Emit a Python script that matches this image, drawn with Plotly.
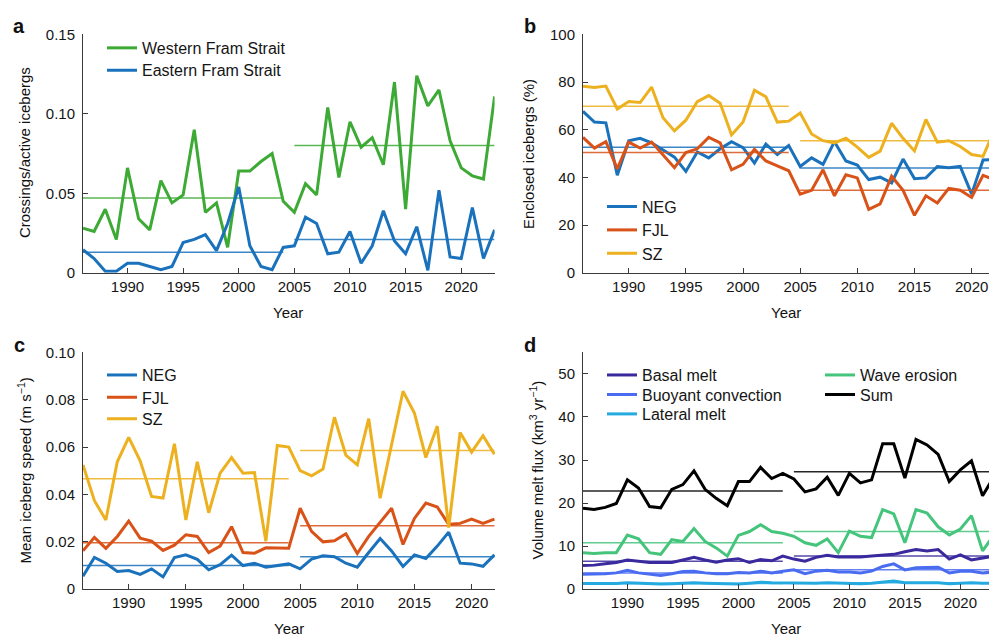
import plotly.graph_objects as go

# ---------------- data ----------------
years_ad = list(range(1986, 2024))
years_bc = list(range(1986, 2023))

west_fram = [0.028, 0.026, 0.040, 0.021, 0.066, 0.034, 0.027, 0.058, 0.044, 0.049,
             0.090, 0.038, 0.044, 0.016, 0.064, 0.064, 0.070, 0.075, 0.045, 0.038,
             0.056, 0.049, 0.104, 0.060, 0.095, 0.079, 0.085, 0.068, 0.120, 0.040,
             0.124, 0.105, 0.115, 0.083, 0.066, 0.061, 0.059, 0.111]
east_fram = [0.0145, 0.009, 0.001, 0.001, 0.006, 0.006, 0.004, 0.002, 0.004, 0.019,
             0.021, 0.024, 0.014, 0.031, 0.054, 0.017, 0.004, 0.002, 0.016, 0.017,
             0.035, 0.031, 0.012, 0.013, 0.026, 0.006, 0.017, 0.039, 0.020, 0.012,
             0.029, 0.0016, 0.052, 0.010, 0.009, 0.041, 0.009, 0.027]
west_fram_means = [0.047, 0.080]
east_fram_means = [0.0129, 0.021]

neg_enclosed = [67.7, 63.2, 62.9, 40.9, 55.4, 56.4, 54.5, 51.5, 48.5, 42.5,
                50.7, 48.2, 52.0, 55.0, 52.5, 46.0, 54.0, 49.6, 53.4, 44.6,
                48.2, 45.5, 55.0, 46.9, 45.2, 39.1, 40.1, 37.7, 47.7, 39.5,
                39.8, 44.6, 44.1, 44.6, 33.0, 47.3, 47.5]
fjl_enclosed = [56.8, 52.3, 55.0, 43.6, 54.8, 52.3, 54.8, 49.3, 44.1, 50.4,
                52.0, 56.8, 54.5, 43.2, 45.5, 51.8, 46.9, 44.8, 42.8, 33.0,
                34.6, 43.2, 32.3, 41.1, 39.8, 26.6, 28.9, 40.5, 34.6, 24.1,
                32.3, 29.3, 35.4, 34.6, 31.6, 40.9, 39.0]
sz_enclosed = [78.2, 77.7, 78.3, 68.7, 71.8, 71.4, 77.9, 65.0, 59.5, 64.0,
               71.8, 74.3, 71.1, 57.8, 63.2, 76.6, 73.8, 63.2, 63.6, 67.0,
               58.2, 55.4, 54.5, 56.4, 52.7, 48.4, 51.0, 62.7, 56.4, 51.1,
               64.3, 54.8, 55.4, 53.0, 49.6, 48.8, 60.0]
neg_enclosed_means = [52.7, 43.9]
fjl_enclosed_means = [50.4, 34.6]
sz_enclosed_means = [69.8, 55.4]

neg_speed = [0.0055, 0.0134, 0.0110, 0.0075, 0.0079, 0.0063, 0.0086, 0.0052, 0.0134, 0.0145,
             0.0126, 0.0082, 0.0104, 0.0144, 0.0100, 0.0110, 0.0093, 0.0099, 0.0107, 0.0086,
             0.0127, 0.0141, 0.0137, 0.0110, 0.0093, 0.0155, 0.0214, 0.0162, 0.0096, 0.0145,
             0.0130, 0.0182, 0.0241, 0.0110, 0.0107, 0.0097, 0.0145]
fjl_speed = [0.0162, 0.0219, 0.0173, 0.0223, 0.0288, 0.0216, 0.0203, 0.0164, 0.0186, 0.0230,
             0.0223, 0.0155, 0.0182, 0.0264, 0.0155, 0.0152, 0.0175, 0.0175, 0.0173, 0.0342,
             0.0244, 0.0200, 0.0205, 0.0234, 0.0151, 0.0223, 0.0285, 0.0342, 0.0189, 0.0299,
             0.0364, 0.0347, 0.0274, 0.0278, 0.0296, 0.0278, 0.0296]
sz_speed = [0.0525, 0.0374, 0.0292, 0.0538, 0.0641, 0.0542, 0.0392, 0.0385, 0.0614, 0.0292,
            0.0538, 0.0323, 0.0490, 0.0556, 0.0490, 0.0493, 0.0203, 0.0607, 0.0600, 0.0501,
            0.0479, 0.0507, 0.0726, 0.0566, 0.0525, 0.0720, 0.0384, 0.0611, 0.0836, 0.0744,
            0.0556, 0.0689, 0.0260, 0.0662, 0.0579, 0.0648, 0.0570]
neg_speed_means = [0.0100, 0.0137]
fjl_speed_means = [0.0196, 0.0268]
sz_speed_means = [0.0467, 0.0586]

basal_melt = [5.5, 5.6, 5.9, 6.2, 6.8, 6.5, 6.2, 6.2, 6.2, 6.8,
              7.4, 6.8, 6.3, 6.8, 7.1, 6.2, 6.9, 6.6, 7.7, 7.0,
              6.5, 7.4, 7.9, 7.5, 7.5, 7.5, 7.7, 7.9, 8.1, 8.7,
              9.2, 8.9, 9.2, 7.0, 8.0, 6.8, 7.2, 7.7]
buoyant_conv = [3.5, 3.5, 3.6, 3.8, 4.4, 3.8, 3.5, 3.2, 3.6, 4.1,
                4.2, 3.8, 3.6, 3.6, 3.9, 3.8, 4.2, 3.8, 4.2, 4.5,
                3.6, 4.2, 4.4, 4.0, 4.0, 3.8, 4.2, 5.3, 5.9, 4.5,
                5.0, 5.0, 5.1, 3.8, 4.2, 4.2, 3.8, 4.0]
lateral_melt = [1.35, 1.3, 1.3, 1.35, 1.5, 1.4, 1.25, 1.2, 1.3, 1.4,
                1.5, 1.4, 1.3, 1.25, 1.2, 1.4, 1.65, 1.5, 1.45, 1.4,
                1.3, 1.4, 1.5, 1.4, 1.4, 1.3, 1.4, 1.6, 1.9, 1.5,
                1.5, 1.6, 1.5, 1.3, 1.4, 1.5, 1.4, 1.4]
wave_erosion = [8.5, 8.3, 8.5, 8.5, 12.6, 11.7, 8.5, 8.1, 11.5, 11.1,
                14.1, 11.1, 9.6, 7.7, 12.5, 13.4, 15.0, 13.4, 13.0, 12.3,
                10.8, 10.2, 11.7, 8.5, 13.5, 12.3, 12.0, 18.5, 17.5, 10.8,
                18.5, 17.7, 14.5, 12.6, 14.0, 17.1, 8.9, 12.5]
melt_sum = [18.8, 18.5, 19.0, 19.9, 25.4, 23.5, 19.2, 18.9, 23.2, 24.3,
            27.5, 23.2, 21.1, 19.4, 25.0, 25.0, 28.3, 25.7, 26.9, 25.6,
            22.6, 23.3, 26.0, 21.8, 26.9, 24.7, 25.4, 33.8, 33.8, 25.8,
            34.8, 33.5, 31.3, 25.0, 27.7, 29.8, 21.7, 26.0]
basal_means = [6.5, 7.7]
buoyant_means = [3.8, 4.5]
lateral_means = [1.35, 1.5]
wave_means = [10.8, 13.4]
sum_means = [22.8, 27.3]

periods_ad = [(1986, 2004), (2005, 2023)]
periods_bc = [(1986, 2004), (2005, 2022)]

x_ticks = [1990, 1995, 2000, 2005, 2010, 2015, 2020]

# ---------------- style ----------------
W, H = 989, 643
FONT = "Liberation Sans, Arial, Helvetica, sans-serif"
C_GREEN = "#3DAA35"
C_BLUE = "#1A72BD"
C_ORANGE = "#D95319"
C_YELLOW = "#EDB120"
C_BASAL = "#3A2A9E"
C_BUOY = "#4A6CF0"
C_LAT = "#25AAE0"
C_WAVE = "#45C47C"
C_SUM = "#000000"
AX = "#3a3a3a"
TXT = "#151515"


def px_x(p):
    return p / W


def px_y(p):
    return 1 - p / H


fig = go.Figure()
legend_slots = []  # (legend id, left px, center y px)


def add_series(xref, yref, years, values, means, periods, color, name, leg_x, leg_y):
    lid = "legend" if not legend_slots else "legend%d" % (len(legend_slots) + 1)
    legend_slots.append((lid, leg_x, leg_y))
    fig.add_trace(go.Scatter(x=years, y=values, mode="lines", name=name,
                             line=dict(color=color, width=3),
                             xaxis=xref, yaxis=yref, legend=lid, showlegend=True))
    for (y0, y1), m in zip(periods, means):
        fig.add_trace(go.Scatter(x=[y0, y1], y=[m, m], mode="lines",
                                 line=dict(color=color, width=1.5),
                                 opacity=0.85,
                                 xaxis=xref, yaxis=yref, showlegend=False,
                                 hoverinfo="skip"))


# panel a
add_series("x", "y", years_ad, west_fram, west_fram_means, periods_ad, C_GREEN, "Western Fram Strait", 102, 40)
add_series("x", "y", years_ad, east_fram, east_fram_means, periods_ad, C_BLUE, "Eastern Fram Strait", 102, 63)
# panel b
add_series("x2", "y2", years_bc, neg_enclosed, neg_enclosed_means, periods_bc, C_BLUE, "NEG", 602, 203)
add_series("x2", "y2", years_bc, fjl_enclosed, fjl_enclosed_means, periods_bc, C_ORANGE, "FJL", 602, 227)
add_series("x2", "y2", years_bc, sz_enclosed, sz_enclosed_means, periods_bc, C_YELLOW, "SZ", 602, 251)
# panel c
add_series("x3", "y3", years_bc, neg_speed, neg_speed_means, periods_bc, C_BLUE, "NEG", 102, 376)
add_series("x3", "y3", years_bc, fjl_speed, fjl_speed_means, periods_bc, C_ORANGE, "FJL", 102, 399)
add_series("x3", "y3", years_bc, sz_speed, sz_speed_means, periods_bc, C_YELLOW, "SZ", 102, 421)
# panel d
add_series("x4", "y4", years_ad, melt_sum, sum_means, periods_ad, C_SUM, "Sum", 820, 396)
add_series("x4", "y4", years_ad, wave_erosion, wave_means, periods_ad, C_WAVE, "Wave erosion", 820, 376)
add_series("x4", "y4", years_ad, basal_melt, basal_means, periods_ad, C_BASAL, "Basal melt", 602, 376)
add_series("x4", "y4", years_ad, buoyant_conv, buoyant_means, periods_ad, C_BUOY, "Buoyant convection", 602, 396)
add_series("x4", "y4", years_ad, lateral_melt, lateral_means, periods_ad, C_LAT, "Lateral melt", 602, 416)

axis_common = dict(showline=True, linecolor=AX, linewidth=1, ticks="inside",
                   ticklen=5, tickcolor=AX, tickwidth=1, showgrid=False,
                   zeroline=False, tickfont=dict(family=FONT, size=15, color=TXT))

panels = {
    "a": dict(x=(83, 494.6), y=(26, 271), xr=[1986, 2023], yr=[0, 0.15],
              yt=[0, 0.05, 0.10, 0.15], ytt=["0", "0.05", "0.10", "0.15"]),
    "b": dict(x=(583, 989), y=(26, 271), xr=[1986, 2021.52], yr=[0, 100],
              yt=[0, 20, 40, 60, 80, 100], ytt=["0", "20", "40", "60", "80", "100"]),
    "c": dict(x=(83, 495), y=(352.7, 596), xr=[1986, 2022.05], yr=[0, 0.10],
              yt=[0, 0.02, 0.04, 0.06, 0.08, 0.10], ytt=["0", "0.02", "0.04", "0.06", "0.08", "0.10"]),
    "d": dict(x=(583, 989), y=(352.7, 596), xr=[1986, 2022.58], yr=[0, 55],
              yt=[0, 10, 20, 30, 40, 50], ytt=["0", "10", "20", "30", "40", "50"]),
}

layout = dict(width=W, height=H, margin=dict(l=0, r=0, t=0, b=0),
              paper_bgcolor="white", plot_bgcolor="white",
              font=dict(family=FONT, size=15, color=TXT))
for i, key in enumerate(["a", "b", "c", "d"], start=1):
    p = panels[key]
    sx = "" if i == 1 else str(i)
    layout["xaxis" + sx] = dict(axis_common, domain=[px_x(p["x"][0]), px_x(p["x"][1])],
                                range=p["xr"], tickvals=x_ticks, anchor="y" + sx,
                                ticklabelstandoff=0)
    layout["yaxis" + sx] = dict(axis_common, domain=[px_y(p["y"][1]), px_y(p["y"][0])],
                                range=p["yr"], tickvals=p["yt"], ticktext=p["ytt"],
                                anchor="x" + sx, ticklabelstandoff=4)

for lid, lx, ly in legend_slots:
    layout[lid] = dict(bgcolor="rgba(0,0,0,0)", borderwidth=0,
                       font=dict(family=FONT, size=16, color=TXT),
                       x=px_x(lx), y=px_y(ly), xanchor="left", yanchor="middle")

fig.update_layout(**layout)

ann = []


def text(xp, yp, s, size=15, angle=0, bold=False):
    ann.append(dict(x=px_x(xp), y=px_y(yp), xref="paper", yref="paper",
                    text=("<b>%s</b>" % s) if bold else s, showarrow=False,
                    textangle=angle, xanchor="center", yanchor="middle",
                    font=dict(family=FONT, size=size, color="#111111")))


text(19, 17, "a", 20, bold=True)
text(530, 17, "b", 20, bold=True)
text(19, 345, "c", 20, bold=True)
text(530, 345, "d", 20, bold=True)
text(24, 148, "Crossings/active icebergs", angle=-90)
text(528, 149, "Enclosed icebergs (%)", angle=-90)
text(24, 474, "Mean iceberg speed (m s<sup>−1</sup>)", angle=-90)
text(536, 474, "Volume melt flux (km<sup>3</sup> yr<sup>−1</sup>)", angle=-90)
text(288, 312, "Year")
text(786, 312, "Year")
text(289, 636, "Year")
text(786, 636, "Year")
fig.update_layout(annotations=ann)

fig.write_html("out.html")
